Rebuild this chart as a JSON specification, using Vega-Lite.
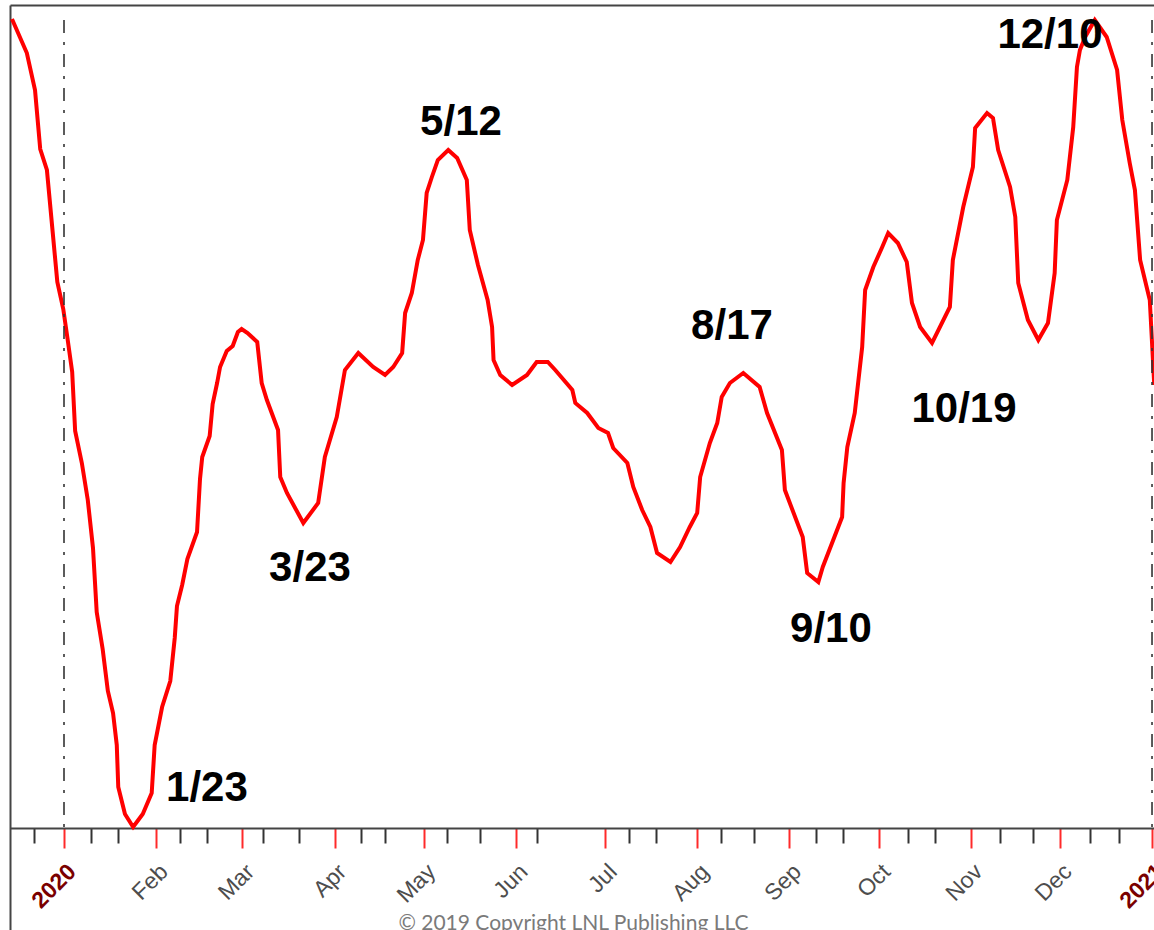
{
  "$schema": "https://vega.github.io/schema/vega-lite/v6.json",
  "width": 1144,
  "height": 925,
  "autosize": {"type": "none"},
  "padding": {"left": 10, "top": 5, "right": 0, "bottom": 0},
  "background": "white",
  "config": {"view": {"stroke": null}},
  "datasets": {
    "series": [
      {"date": "2019-12-14T12:00:00Z", "value": 809},
      {"date": "2019-12-19T12:00:00Z", "value": 775},
      {"date": "2019-12-22T06:00:00Z", "value": 738},
      {"date": "2019-12-24T00:00:00Z", "value": 679},
      {"date": "2019-12-26T06:00:00Z", "value": 658},
      {"date": "2019-12-28T06:00:00Z", "value": 594},
      {"date": "2019-12-29T18:00:00Z", "value": 546},
      {"date": "2019-12-31T18:00:00Z", "value": 519},
      {"date": "2020-01-02T06:00:00Z", "value": 488},
      {"date": "2020-01-03T18:00:00Z", "value": 456},
      {"date": "2020-01-04T18:00:00Z", "value": 397},
      {"date": "2020-01-07T00:00:00Z", "value": 365},
      {"date": "2020-01-09T00:00:00Z", "value": 328},
      {"date": "2020-01-10T18:00:00Z", "value": 280},
      {"date": "2020-01-12T00:00:00Z", "value": 216},
      {"date": "2020-01-14T00:00:00Z", "value": 179},
      {"date": "2020-01-15T18:00:00Z", "value": 137},
      {"date": "2020-01-17T12:00:00Z", "value": 115},
      {"date": "2020-01-18T18:00:00Z", "value": 83},
      {"date": "2020-01-19T06:00:00Z", "value": 41},
      {"date": "2020-01-21T12:00:00Z", "value": 14},
      {"date": "2020-01-24T06:00:00Z", "value": 1},
      {"date": "2020-01-27T12:00:00Z", "value": 14},
      {"date": "2020-01-30T12:00:00Z", "value": 35},
      {"date": "2020-01-31T12:00:00Z", "value": 83},
      {"date": "2020-02-03T00:00:00Z", "value": 121},
      {"date": "2020-02-05T18:00:00Z", "value": 147},
      {"date": "2020-02-07T06:00:00Z", "value": 190},
      {"date": "2020-02-08T00:00:00Z", "value": 222},
      {"date": "2020-02-09T18:00:00Z", "value": 243},
      {"date": "2020-02-11T12:00:00Z", "value": 269},
      {"date": "2020-02-14T18:00:00Z", "value": 296},
      {"date": "2020-02-15T18:00:00Z", "value": 349},
      {"date": "2020-02-16T12:00:00Z", "value": 371},
      {"date": "2020-02-19T00:00:00Z", "value": 392},
      {"date": "2020-02-20T00:00:00Z", "value": 424},
      {"date": "2020-02-21T12:00:00Z", "value": 445},
      {"date": "2020-02-22T12:00:00Z", "value": 461},
      {"date": "2020-02-24T18:00:00Z", "value": 477},
      {"date": "2020-02-26T18:00:00Z", "value": 482},
      {"date": "2020-02-28T12:00:00Z", "value": 496},
      {"date": "2020-02-29T18:00:00Z", "value": 499},
      {"date": "2020-03-02T18:00:00Z", "value": 495},
      {"date": "2020-03-06T00:00:00Z", "value": 486},
      {"date": "2020-03-07T12:00:00Z", "value": 445},
      {"date": "2020-03-09T06:00:00Z", "value": 428},
      {"date": "2020-03-13T00:00:00Z", "value": 398},
      {"date": "2020-03-13T18:00:00Z", "value": 351},
      {"date": "2020-03-16T00:00:00Z", "value": 335},
      {"date": "2020-03-21T12:00:00Z", "value": 305},
      {"date": "2020-03-26T12:00:00Z", "value": 325},
      {"date": "2020-03-28T18:00:00Z", "value": 371},
      {"date": "2020-04-01T18:00:00Z", "value": 411},
      {"date": "2020-04-04T12:00:00Z", "value": 458},
      {"date": "2020-04-09T00:00:00Z", "value": 475},
      {"date": "2020-04-14T00:00:00Z", "value": 461},
      {"date": "2020-04-18T00:00:00Z", "value": 453},
      {"date": "2020-04-20T18:00:00Z", "value": 461},
      {"date": "2020-04-23T18:00:00Z", "value": 475},
      {"date": "2020-04-24T18:00:00Z", "value": 515},
      {"date": "2020-04-27T00:00:00Z", "value": 535},
      {"date": "2020-04-29T00:00:00Z", "value": 568},
      {"date": "2020-04-30T18:00:00Z", "value": 588},
      {"date": "2020-05-02T00:00:00Z", "value": 635},
      {"date": "2020-05-03T18:00:00Z", "value": 651},
      {"date": "2020-05-05T18:00:00Z", "value": 668},
      {"date": "2020-05-09T06:00:00Z", "value": 678},
      {"date": "2020-05-12T06:00:00Z", "value": 670},
      {"date": "2020-05-15T12:00:00Z", "value": 648},
      {"date": "2020-05-16T12:00:00Z", "value": 598},
      {"date": "2020-05-19T06:00:00Z", "value": 563},
      {"date": "2020-05-22T12:00:00Z", "value": 528},
      {"date": "2020-05-24T00:00:00Z", "value": 501},
      {"date": "2020-05-24T12:00:00Z", "value": 468},
      {"date": "2020-05-26T18:00:00Z", "value": 453},
      {"date": "2020-05-30T18:00:00Z", "value": 443},
      {"date": "2020-06-04T18:00:00Z", "value": 453},
      {"date": "2020-06-08T00:00:00Z", "value": 466},
      {"date": "2020-06-11T18:00:00Z", "value": 466},
      {"date": "2020-06-14T06:00:00Z", "value": 458},
      {"date": "2020-06-20T00:00:00Z", "value": 438},
      {"date": "2020-06-21T00:00:00Z", "value": 425},
      {"date": "2020-06-25T00:00:00Z", "value": 415},
      {"date": "2020-06-28T18:00:00Z", "value": 400},
      {"date": "2020-07-02T00:00:00Z", "value": 395},
      {"date": "2020-07-03T18:00:00Z", "value": 380},
      {"date": "2020-07-08T12:00:00Z", "value": 365},
      {"date": "2020-07-10T12:00:00Z", "value": 341},
      {"date": "2020-07-13T12:00:00Z", "value": 318},
      {"date": "2020-07-16T06:00:00Z", "value": 301},
      {"date": "2020-07-18T12:00:00Z", "value": 275},
      {"date": "2020-07-23T00:00:00Z", "value": 266},
      {"date": "2020-07-26T06:00:00Z", "value": 281},
      {"date": "2020-07-29T12:00:00Z", "value": 301},
      {"date": "2020-08-01T00:00:00Z", "value": 315},
      {"date": "2020-08-02T00:00:00Z", "value": 351},
      {"date": "2020-08-05T06:00:00Z", "value": 385},
      {"date": "2020-08-07T18:00:00Z", "value": 405},
      {"date": "2020-08-09T06:00:00Z", "value": 431},
      {"date": "2020-08-12T00:00:00Z", "value": 445},
      {"date": "2020-08-16T12:00:00Z", "value": 455},
      {"date": "2020-08-22T00:00:00Z", "value": 441},
      {"date": "2020-08-24T12:00:00Z", "value": 415},
      {"date": "2020-08-29T12:00:00Z", "value": 378},
      {"date": "2020-08-30T12:00:00Z", "value": 338},
      {"date": "2020-09-05T12:00:00Z", "value": 291},
      {"date": "2020-09-07T00:00:00Z", "value": 255},
      {"date": "2020-09-10T18:00:00Z", "value": 246},
      {"date": "2020-09-12T06:00:00Z", "value": 261},
      {"date": "2020-09-18T18:00:00Z", "value": 311},
      {"date": "2020-09-19T06:00:00Z", "value": 345},
      {"date": "2020-09-20T12:00:00Z", "value": 381},
      {"date": "2020-09-23T00:00:00Z", "value": 415},
      {"date": "2020-09-25T12:00:00Z", "value": 481},
      {"date": "2020-09-26T12:00:00Z", "value": 538},
      {"date": "2020-09-29T06:00:00Z", "value": 561},
      {"date": "2020-10-02T06:00:00Z", "value": 581},
      {"date": "2020-10-04T06:00:00Z", "value": 595},
      {"date": "2020-10-07T12:00:00Z", "value": 585},
      {"date": "2020-10-10T12:00:00Z", "value": 566},
      {"date": "2020-10-12T06:00:00Z", "value": 525},
      {"date": "2020-10-15T00:00:00Z", "value": 501},
      {"date": "2020-10-19T00:00:00Z", "value": 485},
      {"date": "2020-10-25T00:00:00Z", "value": 521},
      {"date": "2020-10-26T00:00:00Z", "value": 568},
      {"date": "2020-10-29T12:00:00Z", "value": 621},
      {"date": "2020-11-01T18:00:00Z", "value": 661},
      {"date": "2020-11-02T12:00:00Z", "value": 700},
      {"date": "2020-11-06T12:00:00Z", "value": 715},
      {"date": "2020-11-08T12:00:00Z", "value": 710},
      {"date": "2020-11-10T06:00:00Z", "value": 678},
      {"date": "2020-11-14T06:00:00Z", "value": 641},
      {"date": "2020-11-16T00:00:00Z", "value": 611},
      {"date": "2020-11-17T00:00:00Z", "value": 545},
      {"date": "2020-11-20T06:00:00Z", "value": 508},
      {"date": "2020-11-23T18:00:00Z", "value": 488},
      {"date": "2020-11-27T00:00:00Z", "value": 505},
      {"date": "2020-11-29T06:00:00Z", "value": 555},
      {"date": "2020-11-30T00:00:00Z", "value": 608},
      {"date": "2020-12-03T12:00:00Z", "value": 648},
      {"date": "2020-12-05T12:00:00Z", "value": 701},
      {"date": "2020-12-06T18:00:00Z", "value": 761},
      {"date": "2020-12-07T18:00:00Z", "value": 778},
      {"date": "2020-12-09T12:00:00Z", "value": 791},
      {"date": "2020-12-12T18:00:00Z", "value": 808},
      {"date": "2020-12-16T18:00:00Z", "value": 791},
      {"date": "2020-12-20T06:00:00Z", "value": 758},
      {"date": "2020-12-22T00:00:00Z", "value": 708},
      {"date": "2020-12-24T12:00:00Z", "value": 665},
      {"date": "2020-12-26T06:00:00Z", "value": 638},
      {"date": "2020-12-28T00:00:00Z", "value": 568},
      {"date": "2020-12-31T06:00:00Z", "value": 528},
      {"date": "2021-01-01T18:00:00Z", "value": 443}
    ],
    "notes": [
      {"date": "2020-02-18T02:00:00Z", "value": 40, "label": "1/23"},
      {"date": "2020-03-23T18:00:00Z", "value": 260, "label": "3/23"},
      {"date": "2020-05-13T13:00:00Z", "value": 706, "label": "5/12"},
      {"date": "2020-08-12T17:00:00Z", "value": 502, "label": "8/17"},
      {"date": "2020-09-15T00:00:00Z", "value": 199, "label": "9/10"},
      {"date": "2020-10-29T18:00:00Z", "value": 419, "label": "10/19"},
      {"date": "2020-11-27T16:00:00Z", "value": 793, "label": "12/10"}
    ],
    "years": [
      {"date": "2020-01-01T00:00:00Z", "top": 808, "bottom": 0},
      {"date": "2021-01-01T00:00:00Z", "top": 808, "bottom": 0}
    ]
  },
  "resolve": {"axis": {"x": "independent", "y": "independent"}},
  "layer": [
    {
      "data": {"name": "series"},
      "mark": {"type": "line", "color": "#ff0000", "strokeWidth": 4, "clip": true},
      "encoding": {
        "x": {
          "field": "date", "type": "temporal",
          "scale": {"type": "utc", "domain": [{"year": 2019, "month": 12, "date": 13, "hours": 20, "utc": true}, {"year": 2021, "month": 1, "date": 1, "hours": 16, "utc": true}]},
          "axis": {
            "orient": "bottom", "offset": -102,
            "values": [
              {"year": 2019, "month": 12, "date": 22, "utc": true},
              {"year": 2020, "month": 1, "date": 1, "utc": true},
              {"year": 2020, "month": 1, "date": 10, "utc": true},
              {"year": 2020, "month": 1, "date": 19, "utc": true},
              {"year": 2020, "month": 2, "date": 1, "utc": true},
              {"year": 2020, "month": 2, "date": 9, "utc": true},
              {"year": 2020, "month": 2, "date": 18, "utc": true},
              {"year": 2020, "month": 3, "date": 1, "utc": true},
              {"year": 2020, "month": 3, "date": 8, "utc": true},
              {"year": 2020, "month": 3, "date": 20, "utc": true},
              {"year": 2020, "month": 4, "date": 1, "utc": true},
              {"year": 2020, "month": 4, "date": 10, "utc": true},
              {"year": 2020, "month": 4, "date": 18, "utc": true},
              {"year": 2020, "month": 5, "date": 1, "utc": true},
              {"year": 2020, "month": 5, "date": 9, "utc": true},
              {"year": 2020, "month": 5, "date": 20, "utc": true},
              {"year": 2020, "month": 6, "date": 1, "utc": true},
              {"year": 2020, "month": 6, "date": 8, "utc": true},
              {"year": 2020, "month": 7, "date": 1, "utc": true},
              {"year": 2020, "month": 7, "date": 9, "utc": true},
              {"year": 2020, "month": 7, "date": 18, "utc": true},
              {"year": 2020, "month": 8, "date": 1, "utc": true},
              {"year": 2020, "month": 8, "date": 9, "utc": true},
              {"year": 2020, "month": 8, "date": 20, "utc": true},
              {"year": 2020, "month": 9, "date": 1, "utc": true},
              {"year": 2020, "month": 9, "date": 10, "utc": true},
              {"year": 2020, "month": 9, "date": 19, "utc": true},
              {"year": 2020, "month": 10, "date": 1, "utc": true},
              {"year": 2020, "month": 10, "date": 11, "utc": true},
              {"year": 2020, "month": 10, "date": 20, "utc": true},
              {"year": 2020, "month": 11, "date": 1, "utc": true},
              {"year": 2020, "month": 11, "date": 11, "utc": true},
              {"year": 2020, "month": 11, "date": 22, "utc": true},
              {"year": 2020, "month": 12, "date": 1, "utc": true},
              {"year": 2020, "month": 12, "date": 11, "utc": true},
              {"year": 2020, "month": 12, "date": 21, "utc": true},
              {"year": 2021, "month": 1, "date": 1, "utc": true}
            ],
            "domain": true, "domainColor": "#444444", "domainWidth": 2,
            "ticks": true, "tickWidth": 2,
            "tickColor": {"condition": {"test": "utcdate(datum.value) == 1", "value": "#ff2a2a"}, "value": "#333333"},
            "tickSize": {"condition": {"test": "utcdate(datum.value) == 1", "value": 20}, "value": 15},
            "grid": false,
            "labelExpr": "utcdate(datum.value) != 1 ? '' : (utcmonth(datum.value) == 0 ? utcFormat(datum.value, '%Y') : utcFormat(datum.value, '%b'))",
            "labelAngle": -45,
            "labelFont": "Liberation Sans",
            "labelFontSize": 23,
            "labelColor": {"condition": {"test": "utcmonth(datum.value) == 0 && utcdate(datum.value) == 1", "value": "#7a0000"}, "value": "#4d4d4d"},
            "labelFontWeight": {"condition": {"test": "utcmonth(datum.value) == 0 && utcdate(datum.value) == 1", "value": "bold"}, "value": "normal"},
            "labelPadding": 12,
            "labelOverlap": false, "labelBound": false, "labelFlush": false,
            "title": "© 2019 Copyright LNL Publishing LLC",
            "titleFont": "Lato", "titleFontSize": 21, "titleFontWeight": "normal", "titleColor": "#7a7a7a",
            "titleX": 563, "titleY": 101, "titleBaseline": "alphabetic", "titleAlign": "center", "titleAnchor": null
          }
        },
        "y": {
          "field": "value", "type": "quantitative",
          "scale": {"domain": [-102, 823], "nice": false, "zero": false},
          "axis": {"orient": "left", "domain": true, "domainColor": "#444444", "domainWidth": 2, "ticks": false, "labels": false, "grid": false, "title": null}
        }
      }
    },
    {
      "data": {"name": "years"},
      "mark": {"type": "rule", "color": "#333333", "strokeWidth": 1.6, "strokeDash": [13, 9, 3, 9]},
      "encoding": {
        "x": {"field": "date", "type": "temporal", "axis": {"orient": "top", "domain": true, "domainColor": "#444444", "domainWidth": 2, "ticks": false, "labels": false, "grid": false, "title": null}},
        "y": {"field": "top", "type": "quantitative", "axis": null},
        "y2": {"field": "bottom"}
      }
    },
    {
      "data": {"name": "notes"},
      "mark": {"type": "text", "font": "Liberation Sans", "fontWeight": "bold", "fontSize": 42, "color": "#000000", "align": "center", "baseline": "middle"},
      "encoding": {
        "x": {"field": "date", "type": "temporal", "axis": null},
        "y": {"field": "value", "type": "quantitative", "axis": null},
        "text": {"field": "label"}
      }
    }
  ]
}
